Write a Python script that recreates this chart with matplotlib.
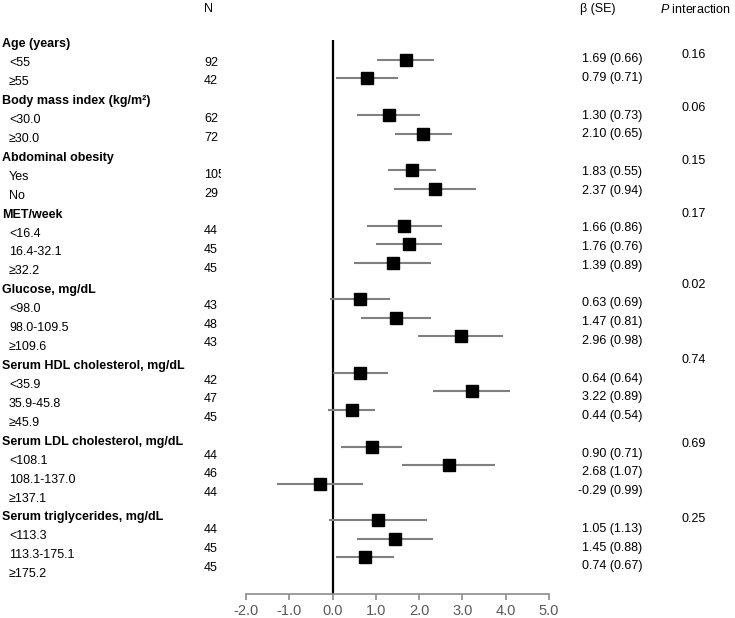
import matplotlib
matplotlib.use('Agg')
import matplotlib.pyplot as plt
from matplotlib.transforms import blended_transform_factory, Bbox, TransformedBbox

plt.rcParams['font.family'] = ['Liberation Sans', 'DejaVu Sans']
plt.rcParams['mathtext.fontset'] = 'custom'
plt.rcParams['mathtext.it'] = 'Liberation Sans:italic'
plt.rcParams['mathtext.rm'] = 'Liberation Sans'

# ---------------- data ----------------
groups = ["Age (years)", "Body mass index (kg/m²)", "Abdominal obesity", "MET/week",
          "Glucose, mg/dL", "Serum HDL cholesterol, mg/dL",
          "Serum LDL cholesterol, mg/dL", "Serum triglycerides, mg/dL"]
subgroups = [["<55", "≥55"], ["<30.0", "≥30.0"], ["Yes", "No"],
             ["<16.4", "16.4-32.1", "≥32.2"], ["<98.0", "98.0-109.5", "≥109.6"],
             ["<35.9", "35.9-45.8", "≥45.9"], ["<108.1", "108.1-137.0", "≥137.1"],
             ["<113.3", "113.3-175.1", "≥175.2"]]
n_values = [[92, 42], [62, 72], [105, 29], [44, 45, 45], [43, 48, 43],
            [42, 47, 45], [44, 46, 44], [44, 45, 45]]
beta = [[1.69, 0.79], [1.30, 2.10], [1.83, 2.37], [1.66, 1.76, 1.39],
        [0.63, 1.47, 2.96], [0.64, 3.22, 0.44], [0.90, 2.68, -0.29],
        [1.05, 1.45, 0.74]]
se = [[0.66, 0.71], [0.73, 0.65], [0.55, 0.94], [0.86, 0.76, 0.89],
      [0.69, 0.81, 0.98], [0.64, 0.89, 0.54], [0.71, 1.07, 0.99],
      [1.13, 0.88, 0.67]]
p_interaction = ["0.16", "0.06", "0.15", "0.17", "0.02", "0.74", "0.69", "0.25"]
xticks = [-2.0, -1.0, 0.0, 1.0, 2.0, 3.0, 4.0, 5.0]

# ---------------- layout ----------------
W, H = 735, 618
fig = plt.figure(figsize=(W / 100, H / 100), dpi=100)
ax_left, ax_right = 246 / W, 549 / W
ax_bottom, ax_top = (H - 594) / H, (H - 39.7) / H
ax = fig.add_axes([ax_left, ax_bottom, ax_right - ax_left, ax_top - ax_bottom])

# row indices: header rows followed by subgroup rows
header_rows, sub_rows = [], []
r = 0
for g, subs in zip(groups, subgroups):
    header_rows.append(r)
    r += 1
    rows = []
    for s in subs:
        rows.append(r)
        r += 1
    sub_rows.append(rows)
n_rows = r

# marks
ys, bs, ses = [], [], []
for rows, bl, sl in zip(sub_rows, beta, se):
    ys += rows
    bs += bl
    ses += sl
ax.hlines(ys, [b - s for b, s in zip(bs, ses)], [b + s for b, s in zip(bs, ses)],
          color='#808080', lw=1.5, zorder=2)
ax.plot(bs, ys, 's', color='black', ms=8, zorder=3)
ax.axvline(0, color='black', lw=1.6, zorder=1)

ax.set_xlim(xticks[0], xticks[-1])
ax.set_ylim(n_rows + 1, -0.1)
ax.set_xticks(xticks)
ax.set_xticklabels([f"{t:.1f}" for t in xticks])
for sp in ['top', 'right', 'left']:
    ax.spines[sp].set_visible(False)
ax.spines['bottom'].set_color('#8c8c8c')
ax.spines['bottom'].set_linewidth(1.2)
ax.tick_params(axis='x', direction='out', length=4.5, width=1.2, color='#8c8c8c',
               labelsize=10.5, labelcolor='#595959', pad=3)
ax.set_yticks([])

# text placement helpers (x in figure pixels, y in row units)
tr = blended_transform_factory(fig.transFigure, ax.transData)
FS = 9
DY = 0.11
def label_y(k):
    return 0.04 + k * 1.0277 + DY
def n_y(k):
    return 1.04 + (k - 1) * 1.016 + DY
def beta_y(k):
    return 0.85 + (k - 1) * 1.020 + DY
p_offsets = [0.64, 0.49, 0.37, 0.24, 0.09, 0.21, 0.72, 0.84]

n_clip = TransformedBbox(Bbox([[0, 0], [220.5 / W, 1]]), fig.transFigure)

# headers
ax.text(204 / W, -1.85 + DY, "N", transform=tr, fontsize=FS, va='center', ha='left', clip_on=False)
ax.text(580 / W, -1.85 + DY, "β (SE)", transform=tr, fontsize=FS, va='center', ha='left', clip_on=False)
ax.text(660 / W, -1.85 + DY, r"$\mathit{P}$ interaction", transform=tr, fontsize=FS,
        va='center', ha='left', clip_on=False)

for gi, (g, subs) in enumerate(zip(groups, subgroups)):
    hr = header_rows[gi]
    ax.text(2 / W, label_y(hr), g, transform=tr, fontsize=FS, fontweight='bold',
            va='center', ha='left', clip_on=False)
    ax.text(681 / W, hr + p_offsets[gi] + DY, p_interaction[gi], transform=tr, fontsize=FS,
            va='center', ha='left', clip_on=False)
    for si, s in enumerate(subs):
        k = sub_rows[gi][si]
        ax.text(9 / W, label_y(k), s, transform=tr, fontsize=FS, va='center',
                ha='left', clip_on=False)
        t = ax.text(204 / W, n_y(k), str(n_values[gi][si]), transform=tr, fontsize=FS,
                    va='center', ha='left')
        t.set_clip_box(n_clip)
        t.set_clip_on(True)
        ax.text(642 / W, beta_y(k), f"{beta[gi][si]:.2f} ({se[gi][si]:.2f})", transform=tr,
                fontsize=FS, va='center', ha='right', clip_on=False)

fig.savefig('out.png', dpi=100, facecolor='white')
